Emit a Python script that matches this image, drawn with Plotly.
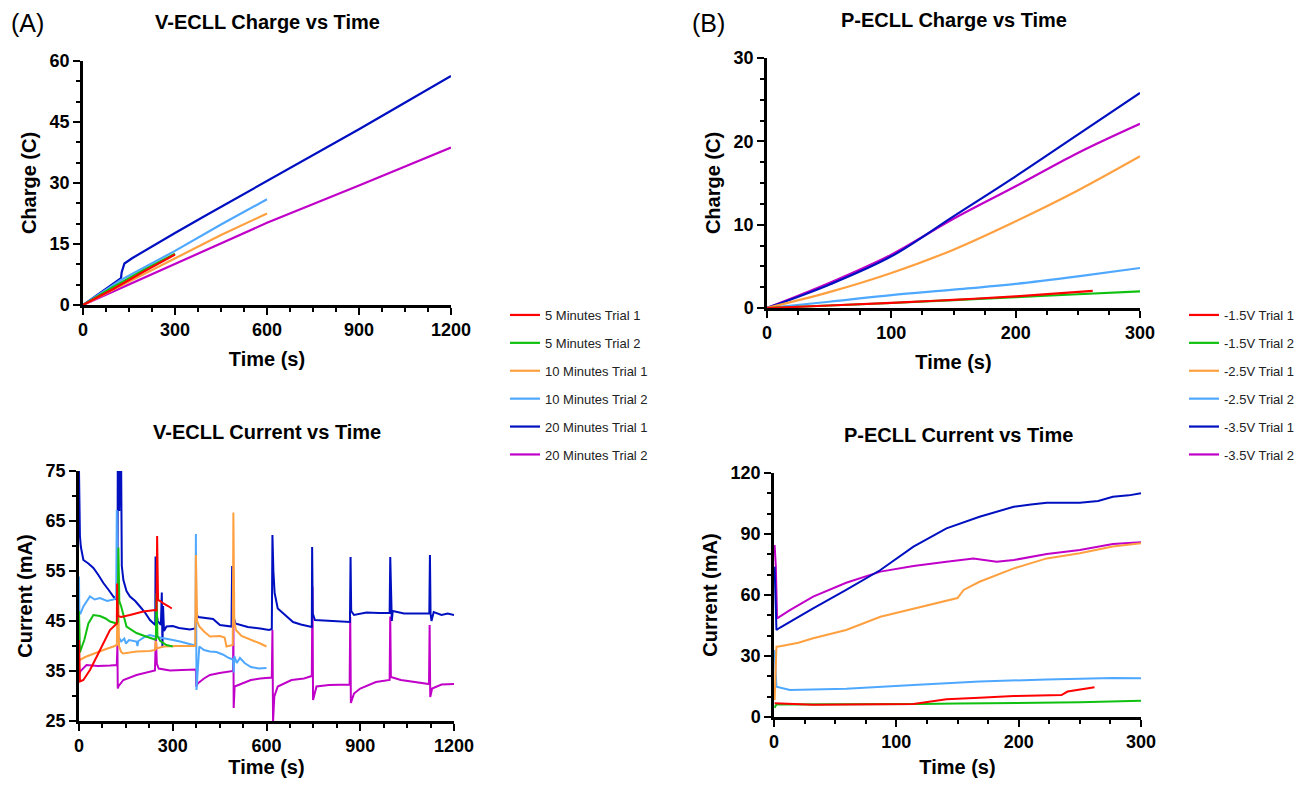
import plotly.graph_objects as go

# ---------------- DATA ----------------
names_v = ["5 Minutes Trial 1", "5 Minutes Trial 2", "10 Minutes Trial 1",
           "10 Minutes Trial 2", "20 Minutes Trial 1", "20 Minutes Trial 2"]
names_p = ["-1.5V Trial 1", "-1.5V Trial 2", "-2.5V Trial 1",
           "-2.5V Trial 2", "-3.5V Trial 1", "-3.5V Trial 2"]
colors = ["#FF0000", "#10C010", "#FFA040", "#4FA8FF", "#0010C0", "#C000C8"]

# V-ECLL charge (C) vs time (s)
vq_t_5_1 = [0, 100, 200, 300]
vq_5_1 = [0, 4.0, 8.3, 12.4]
vq_t_5_2 = [0, 100, 200, 300]
vq_5_2 = [0, 4.5, 8.7, 12.6]
vq_t_10_1 = [0, 150, 300, 450, 600]
vq_10_1 = [0, 5.7, 11.5, 17.2, 22.5]
vq_t_10_2 = [0, 125, 300, 450, 600]
vq_10_2 = [0, 6.2, 13.3, 19.8, 26.0]
vq_t_20_1 = [0, 60, 124, 126, 135, 160, 220, 300, 400, 500, 600, 700, 800, 900, 1000, 1100, 1200]
vq_20_1 = [0, 3.3, 6.6, 8.0, 10.2, 11.5, 14.2, 17.7, 22.0, 26.2, 30.6, 34.8, 39.0, 43.2, 47.6, 52.0, 56.3]
vq_t_20_2 = [0, 300, 600, 900, 1200]
vq_20_2 = [0, 10.2, 20.2, 29.4, 38.7]

# V-ECLL current (mA) vs time (s)
vi_t_5_1 = [0, 1, 3, 14, 35, 57, 78, 99, 121, 122, 124, 135, 163, 206, 243, 248, 250, 253, 260, 270, 285, 297]
vi_5_1 = [41.2, 33.5, 32.9, 33.2, 35.2, 37.9, 40.5, 43.2, 44.5, 52.5, 46.0, 45.8, 46.2, 46.9, 47.2, 47.0, 62.0, 49.2, 49.0, 48.5, 48.0, 47.5]
vi_t_5_2 = [0, 1, 3, 10, 17, 30, 46, 67, 85, 99, 121, 124, 126, 129, 135, 152, 184, 210, 227, 243, 246, 248, 251, 260, 280, 300]
vi_5_2 = [47.0, 40.0, 38.7, 40.0, 41.2, 44.5, 46.2, 46.0, 45.5, 44.9, 44.5, 44.8, 59.7, 49.0, 47.9, 43.9, 42.6, 42.0, 41.6, 41.3, 41.5, 50.5, 42.0, 41.0, 40.2, 39.9]
vi_t_10_1 = [0, 5, 20, 46, 78, 110, 121, 125, 128, 135, 142, 184, 227, 243, 246, 249, 270, 312, 361, 372, 374, 378, 385, 400, 419, 451, 466, 472, 492, 494, 497, 502, 520, 555, 580, 600]
vi_10_1 = [37.2, 37.3, 37.8, 38.5, 39.2, 39.9, 40.2, 54.5, 40.0, 38.8, 38.5, 38.9, 39.0, 39.2, 41.0, 39.5, 39.9, 40.0, 39.9, 40.0, 58.2, 45.0, 43.9, 42.9, 41.9, 42.0, 41.7, 39.9, 40.2, 66.7, 45.0, 43.2, 42.0, 41.2, 40.5, 39.9]
vi_t_10_2 = [0, 1, 5, 14, 35, 50, 67, 90, 110, 119, 121, 123, 126, 135, 145, 150, 160, 175, 184, 187, 190, 210, 227, 250, 270, 300, 323, 350, 366, 373, 374, 376, 380, 385, 400, 419, 440, 460, 480, 493, 495, 497, 505, 515, 530, 550, 575, 600]
vi_10_2 = [53.9, 46.6, 46.5, 47.9, 49.9, 49.3, 49.6, 49.0, 49.3, 49.6, 67.2, 45.0, 41.9, 40.9, 41.5, 40.5, 41.2, 41.0, 40.9, 40.0, 41.0, 41.8, 42.2, 41.8, 41.5, 41.2, 40.9, 40.5, 40.2, 40.0, 62.4, 31.2, 36.0, 39.9, 39.2, 38.9, 38.8, 38.3, 37.6, 37.3, 34.7, 38.0, 36.6, 37.6, 36.6, 35.8, 35.5, 35.6]
vi_t_20_1 = [0, 1, 3, 6, 14, 30, 46, 62, 78, 95, 110, 120, 123, 124, 128, 129, 131, 135, 137, 142, 152, 163, 180, 195, 210, 227, 240, 244, 245, 247, 252, 262, 265, 267, 269, 272, 280, 300, 320, 355, 372, 375, 381, 400, 429, 451, 470, 488, 490, 492, 500, 540, 580, 608, 617, 619, 622, 626, 636, 653, 685, 710, 728, 745, 746, 748, 755, 800, 840, 867, 869, 871, 880, 920, 960, 994, 996, 998, 1001, 1004, 1040, 1080, 1121, 1123, 1125, 1128, 1135, 1160, 1180, 1200]
vi_20_1 = [75.0, 68.0, 62.0, 59.8, 57.2, 56.5, 55.6, 54.2, 52.6, 51.2, 49.9, 49.3, 50.0, 75.0, 75.0, 67.0, 75.0, 75.0, 56.0, 53.2, 51.0, 49.9, 49.0, 47.9, 46.8, 45.2, 44.5, 44.2, 57.9, 47.0, 45.0, 44.2, 50.7, 39.7, 48.0, 43.0, 43.9, 44.0, 43.6, 43.3, 43.5, 46.5, 45.8, 45.6, 45.4, 44.2, 44.0, 43.9, 56.0, 46.6, 44.5, 43.8, 43.5, 43.2, 43.4, 62.2, 55.0, 50.6, 47.5, 46.5, 44.8, 44.3, 44.0, 43.8, 59.8, 46.5, 45.2, 45.0, 44.9, 44.8, 57.8, 47.0, 46.2, 46.7, 46.6, 46.6, 57.8, 50.8, 45.0, 47.0, 46.5, 46.5, 46.5, 58.2, 46.5, 45.0, 46.8, 46.2, 46.5, 46.2]
vi_t_20_2 = [0, 5, 24, 60, 100, 121, 123, 124, 127, 142, 184, 220, 243, 246, 249, 255, 270, 291, 330, 366, 374, 375, 380, 400, 419, 450, 480, 493, 494, 495, 498, 520, 550, 580, 617, 619, 621, 625, 636, 680, 720, 745, 747, 749, 760, 800, 840, 866, 868, 870, 880, 900, 950, 994, 996, 998, 1030, 1080, 1120, 1122, 1124, 1130, 1160, 1200]
vi_20_2 = [34.3, 35.0, 36.2, 36.0, 36.1, 36.2, 40.2, 31.5, 32.0, 33.2, 34.2, 34.8, 35.1, 42.0, 36.5, 35.5, 35.3, 35.1, 35.2, 35.2, 35.3, 31.9, 32.5, 33.5, 34.2, 34.6, 34.8, 35.0, 45.0, 27.6, 31.9, 32.5, 33.2, 33.5, 33.7, 43.2, 24.9, 29.9, 31.9, 33.2, 33.5, 34.0, 51.9, 29.2, 31.9, 32.2, 32.2, 32.3, 45.8, 28.6, 30.5, 31.5, 32.8, 33.2, 45.9, 33.8, 33.2, 32.8, 32.4, 44.2, 29.8, 31.5, 32.3, 32.4]

# P-ECLL charge (C) vs time (s)
pq_t = [0, 50, 100, 150, 200, 250, 300]
pq_t_15_1 = [0, 50, 100, 150, 200, 262]
pq_15_1 = [0, 0.3, 0.62, 0.98, 1.4, 2.05]
pq_15_2 = [0, 0.3, 0.6, 0.95, 1.3, 1.65, 2.0]
pq_25_1 = [0, 1.9, 4.2, 7.0, 10.4, 14.1, 18.2]
pq_25_2 = [0, 0.75, 1.55, 2.2, 2.9, 3.8, 4.8]
pq_35_1 = [0, 2.8, 6.2, 11.0, 15.8, 20.8, 25.8]
pq_35_2 = [0, 3.0, 6.4, 10.7, 14.6, 18.6, 22.1]

# P-ECLL current (mA) vs time (s)
pi_t_15_1 = [0.5, 32, 114, 141, 168, 196, 235, 240, 262]
pi_15_1 = [6.8, 6.0, 6.4, 8.7, 9.5, 10.3, 10.8, 12.5, 14.6]
pi_t_15_2 = [0.5, 2, 50, 100, 120, 150, 200, 250, 300]
pi_15_2 = [4.5, 6.2, 6.3, 6.2, 6.4, 6.6, 7.0, 7.2, 8.0]
pi_t_25_1 = [0.5, 2, 5, 20, 32, 59, 87, 114, 141, 150, 155, 168, 196, 223, 250, 277, 300]
pi_25_1 = [8.4, 34.6, 34.8, 36.5, 38.7, 42.8, 49.3, 53.4, 57.5, 58.5, 62.5, 66.5, 73.1, 78.0, 80.5, 83.8, 85.5]
pi_t_25_2 = [0.5, 2, 13, 59, 114, 168, 223, 277, 300]
pi_25_2 = [33.0, 14.9, 13.3, 13.9, 15.7, 17.4, 18.5, 19.2, 19.0]
pi_t_35_1 = [0.5, 2, 5, 13, 32, 59, 87, 114, 141, 168, 196, 210, 223, 250, 265, 277, 290, 300]
pi_35_1 = [73.9, 42.8, 44.0, 46.9, 53.4, 62.5, 72.3, 83.8, 92.8, 98.5, 103.4, 104.5, 105.4, 105.4, 106.2, 108.3, 109.0, 110.0]
pi_t_35_2 = [0.5, 1.5, 2.5, 13, 32, 59, 87, 114, 141, 163, 182, 196, 223, 250, 277, 300]
pi_35_2 = [84.6, 74.0, 48.5, 52.6, 59.2, 66.0, 71.5, 74.3, 76.4, 78.0, 76.4, 77.2, 80.2, 82.1, 85.1, 86.0]

# ---------------- FIGURE ----------------
# The page body has an 8px margin; lay the figure out in window pixel coordinates.
OFF = 8
W, H = 1311 - 2 * OFF, 786 - 2 * OFF
FONT = "Liberation Sans, Arial, Helvetica, sans-serif"

def px_x(a, b):
    return [(a - OFF) / W, (b - OFF) / W]

def px_y(top, bottom):
    return [1 - (bottom - OFF) / H, 1 - (top - OFF) / H]

def pxx(a):
    return (a - OFF) / W

def pxy(a):
    return 1 - (a - OFF) / H

fig = go.Figure()

vq = [(vq_t_5_1, vq_5_1), (vq_t_5_2, vq_5_2), (vq_t_10_1, vq_10_1),
      (vq_t_10_2, vq_10_2), (vq_t_20_1, vq_20_1), (vq_t_20_2, vq_20_2)]
vi = [(vi_t_5_1, vi_5_1), (vi_t_5_2, vi_5_2), (vi_t_10_1, vi_10_1),
      (vi_t_10_2, vi_10_2), (vi_t_20_1, vi_20_1), (vi_t_20_2, vi_20_2)]
pq = [(pq_t_15_1, pq_15_1), (pq_t, pq_15_2), (pq_t, pq_25_1),
      (pq_t, pq_25_2), (pq_t, pq_35_1), (pq_t, pq_35_2)]
pi = [(pi_t_15_1, pi_15_1), (pi_t_15_2, pi_15_2), (pi_t_25_1, pi_25_1),
      (pi_t_25_2, pi_25_2), (pi_t_35_1, pi_35_1), (pi_t_35_2, pi_35_2)]

order = [5, 4, 3, 2, 1, 0]
for i in order:
    fig.add_trace(go.Scatter(x=vq[i][0], y=vq[i][1], mode="lines", name=names_v[i],
                             line=dict(color=colors[i], width=2.2), xaxis="x", yaxis="y",
                             legend="legend", legendgroup="v%d" % i, legendrank=i + 1,
                             showlegend=True))
for i in order:
    fig.add_trace(go.Scatter(x=vi[i][0], y=vi[i][1], mode="lines", name=names_v[i],
                             line=dict(color=colors[i], width=2), xaxis="x2", yaxis="y2",
                             showlegend=False))
for i in order:
    fig.add_trace(go.Scatter(x=pq[i][0], y=pq[i][1], mode="lines", name=names_p[i],
                             line=dict(color=colors[i], width=2.2, shape="spline"),
                             xaxis="x3", yaxis="y3",
                             legend="legend2", legendgroup="p%d" % i, legendrank=i + 1,
                             showlegend=True))
for i in order:
    fig.add_trace(go.Scatter(x=pi[i][0], y=pi[i][1], mode="lines", name=names_p[i],
                             line=dict(color=colors[i], width=2), xaxis="x4", yaxis="y4",
                             showlegend=False))

tickfont = dict(family=FONT, size=18, color="black", weight="bold")
titlefont = dict(family=FONT, size=20, color="black", weight="bold")

def xax(dom, anchor, rng, dtick, minor, title):
    return dict(domain=dom, anchor=anchor, range=rng, dtick=dtick, tick0=0,
                automargin=False,
                showgrid=False, zeroline=False, showline=True, linecolor="black",
                linewidth=2.5, ticks="outside", ticklen=7, tickwidth=2.2,
                tickcolor="black", tickfont=tickfont,
                minor=dict(dtick=minor, tick0=0, ticks="outside", ticklen=4,
                           tickwidth=2, tickcolor="black", showgrid=False),
                title=dict(text=title, font=titlefont, standoff=13),
                fixedrange=True)

def yax(dom, anchor, rng, dtick, minor, title, t0=0):
    return dict(domain=dom, anchor=anchor, range=rng, dtick=dtick, tick0=t0,
                automargin=False,
                showgrid=False, zeroline=False, showline=True, linecolor="black",
                linewidth=2.5, ticks="outside", ticklen=7, tickwidth=2.2,
                tickcolor="black", tickfont=tickfont,
                minor=dict(dtick=minor, tick0=t0, ticks="outside", ticklen=4,
                           tickwidth=2, tickcolor="black", showgrid=False),
                title=dict(text=title, font=titlefont, standoff=8),
                fixedrange=True)

fig.update_layout(
    width=W, height=H,
    margin=dict(l=0, r=0, t=0, b=0, autoexpand=False),
    paper_bgcolor="white", plot_bgcolor="white",
    font=dict(family=FONT, color="black"),
    xaxis=xax(px_x(83, 451), "y", [0, 1200], 300, 75, "Time (s)"),
    yaxis=yax(px_y(61, 305), "x", [0, 60], 15, 5, "Charge (C)"),
    xaxis2=xax(px_x(79, 454), "y2", [0, 1200], 300, 75, "Time (s)"),
    yaxis2=yax(px_y(471, 721), "x2", [25, 75], 10, 5, "Current (mA)", t0=25),
    xaxis3=xax(px_x(767, 1140), "y3", [0, 300], 100, 25, "Time (s)"),
    yaxis3=yax(px_y(58, 308), "x3", [0, 30], 10, 2.5, "Charge (C)"),
    xaxis4=xax(px_x(774, 1141), "y4", [0, 300], 100, 25, "Time (s)"),
    yaxis4=yax(px_y(473, 717), "x4", [0, 120], 30, 10, "Current (mA)"),
    legend=dict(x=pxx(505), y=pxy(300), xanchor="left", yanchor="top",
                traceorder="grouped", tracegroupgap=8,
                font=dict(family=FONT, size=13, color="#222"),
                bgcolor="rgba(0,0,0,0)", itemclick=False, itemdoubleclick=False),
    legend2=dict(x=pxx(1184), y=pxy(300), xanchor="left", yanchor="top",
                 traceorder="grouped", tracegroupgap=8,
                 font=dict(family=FONT, size=13, color="#222"),
                 bgcolor="rgba(0,0,0,0)", itemclick=False, itemdoubleclick=False),
    showlegend=True,
)

annots = [
    ("(A)", 9, 23, 25, "left", False),
    ("(B)", 690, 23, 25, "left", False),
    ("V-ECLL Charge vs Time", 267, 22, 20, "center", True),
    ("V-ECLL Current vs Time", 267, 432, 20, "center", True),
    ("P-ECLL Charge vs Time", 954, 20, 20, "center", True),
    ("P-ECLL Current vs Time", 958, 435, 20, "center", True),
]
for text, x, y, size, align, bold in annots:
    fig.add_annotation(text=text, x=pxx(x), y=pxy(y), xref="paper", yref="paper",
                       xanchor=align, yanchor="middle", showarrow=False,
                       font=dict(family=FONT, size=size, color="black",
                                 weight="bold" if bold else "normal"))

fig.write_html("out.html")
